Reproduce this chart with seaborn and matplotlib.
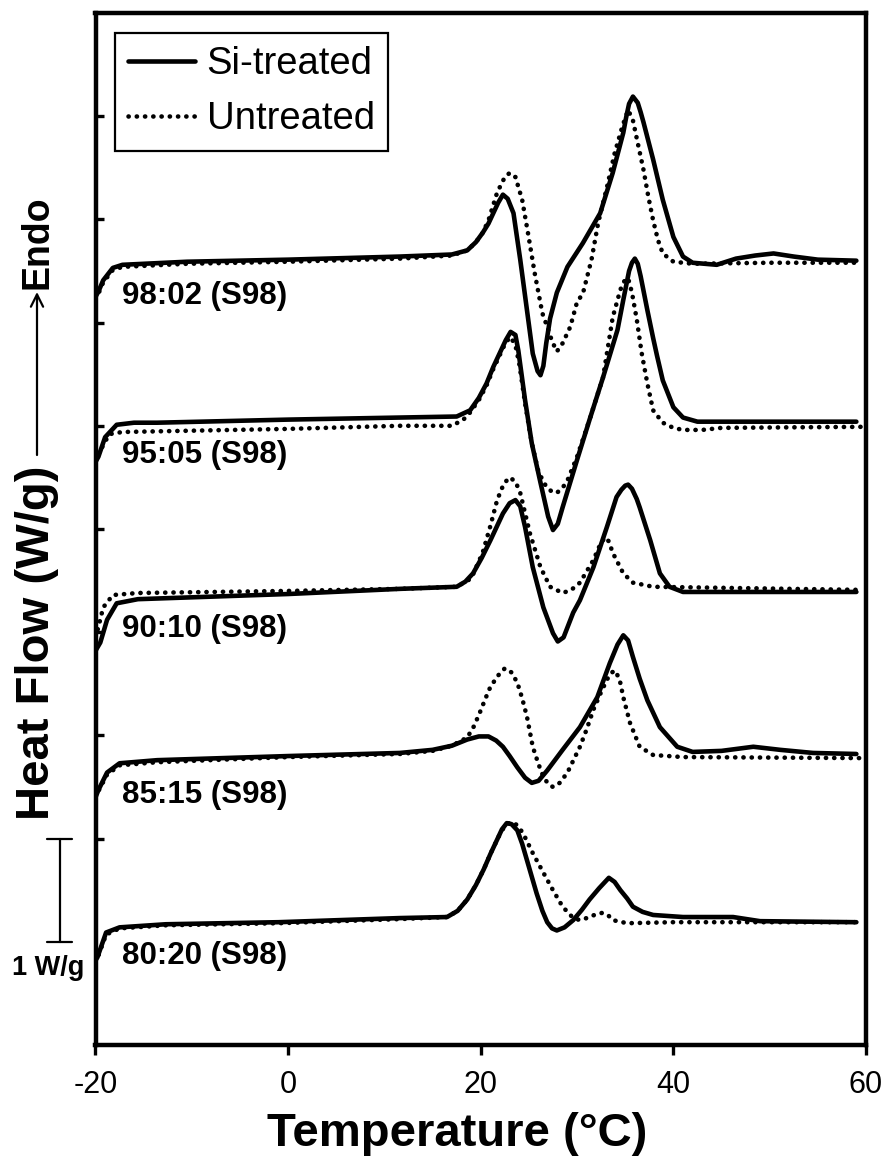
import matplotlib
matplotlib.use("Agg")
import matplotlib.pyplot as plt
import pandas as pd
import seaborn as sns
from matplotlib.lines import Line2D

# ---------------------------------------------------------------------------
# DSC heating scans (heat flow offset per sample, W/g) vs temperature (°C)
# ---------------------------------------------------------------------------
samples = ["98:02 (S98)", "95:05 (S98)", "90:10 (S98)", "85:15 (S98)", "80:20 (S98)"]
treatments = ["Si-treated", "Untreated"]

# 98:02
t_9802_si = [-20.0, -19.7, -19.2, -18.2, -17.2, -10.5, 0.0, 11.6, 17.0, 18.6, 19.5, 20.2,
             20.8, 21.3, 21.8, 22.3, 22.8, 23.4, 24.1, 24.8, 25.4, 25.9, 26.2, 26.5, 26.8,
             27.2, 27.9, 29.0, 30.6, 32.4, 33.7, 34.8, 35.1, 35.4, 35.8, 36.3, 36.6, 36.9,
             37.9, 38.9, 40.0, 41.0, 42.0, 44.5, 46.5, 48.5, 50.4, 52.5, 55.0, 59.0]
hf_9802_si = [7.25, 7.30, 7.41, 7.53, 7.56, 7.59, 7.61, 7.64, 7.66, 7.70, 7.78, 7.87,
              7.96, 8.06, 8.16, 8.24, 8.20, 8.06, 7.61, 7.12, 6.70, 6.53, 6.49, 6.58, 6.80,
              7.04, 7.29, 7.54, 7.77, 8.06, 8.45, 8.84, 8.99, 9.12, 9.19, 9.13, 9.04, 8.94,
              8.58, 8.19, 7.83, 7.64, 7.58, 7.56, 7.62, 7.65, 7.67, 7.64, 7.61, 7.60]
t_9802_un = [-20.0, -19.7, -19.2, -18.2, -17.2, -10.5, 0.0, 11.6, 17.0, 18.6, 19.5, 20.2,
             20.8, 21.7, 22.5, 23.0, 23.6, 24.3, 24.9, 25.6, 26.4, 26.9, 27.4, 27.9, 28.5,
             29.3, 30.0, 30.6, 31.5, 32.2, 33.1, 33.9, 34.7, 35.3, 35.8, 36.3, 36.9, 37.4,
             37.9, 38.4, 38.9, 40.0, 42.0, 50.0, 59.5]
hf_9802_un = [7.23, 7.28, 7.39, 7.51, 7.54, 7.57, 7.59, 7.62, 7.65, 7.70, 7.78, 7.87,
              7.99, 8.26, 8.41, 8.45, 8.41, 8.19, 7.87, 7.48, 7.09, 6.96, 6.82, 6.72, 6.80,
              6.96, 7.20, 7.28, 7.61, 7.97, 8.31, 8.64, 8.90, 9.06, 8.96, 8.74, 8.48, 8.22,
              7.99, 7.80, 7.67, 7.59, 7.57, 7.58, 7.58]

# 95:05
t_9505_si = [-20.0, -19.7, -19.0, -17.8, -16.0, -13.6, 0.0, 11.6, 17.5, 18.9, 19.8, 20.6,
             21.3, 22.0, 22.6, 23.1, 23.6, 23.9, 24.6, 25.3, 26.2, 27.0, 27.5, 28.0, 28.5,
             30.0, 31.3, 32.7, 34.2, 34.8, 35.4, 35.7, 36.0, 36.3, 36.6, 37.3, 37.9, 38.3,
             38.9, 40.0, 41.0, 42.5, 59.0]
hf_9505_si = [5.65, 5.70, 5.89, 6.01, 6.03, 6.03, 6.06, 6.08, 6.09, 6.15, 6.27, 6.41,
              6.57, 6.71, 6.83, 6.91, 6.88, 6.73, 6.25, 5.83, 5.45, 5.12, 4.99, 5.05, 5.21,
              5.67, 6.06, 6.47, 6.93, 7.22, 7.50, 7.58, 7.62, 7.57, 7.45, 7.12, 6.85, 6.68,
              6.44, 6.18, 6.08, 6.04, 6.04]
t_9505_un = [-20.0, -19.7, -19.0, -18.5, -17.2, 0.0, 11.6, 17.0, 18.2, 18.9, 19.8, 20.6,
             21.3, 22.0, 22.6, 23.1, 23.6, 24.0, 24.6, 25.3, 26.0, 26.8, 27.4, 27.9, 28.5,
             29.0, 30.0, 31.3, 32.7, 33.7, 34.5, 35.0, 35.3, 35.7, 36.2, 36.7, 37.3, 37.9,
             38.9, 40.0, 41.0, 43.0, 45.0, 59.5]
hf_9505_un = [5.65, 5.72, 5.85, 5.92, 5.94, 5.97, 6.00, 6.00, 6.06, 6.13, 6.25, 6.39,
              6.55, 6.69, 6.81, 6.86, 6.78, 6.60, 6.22, 5.83, 5.55, 5.41, 5.36, 5.35, 5.40,
              5.47, 5.70, 6.06, 6.47, 7.05, 7.32, 7.42, 7.43, 7.29, 7.03, 6.71, 6.41, 6.15,
              6.03, 5.98, 5.96, 5.96, 5.98, 5.99]

# 90:10
t_9010_si = [-20.0, -19.5, -18.8, -17.8, -15.6, 0.0, 11.6, 17.5, 18.4, 19.2, 20.1, 21.0,
             21.7, 22.3, 23.0, 23.6, 24.1, 24.6, 25.4, 26.5, 27.5, 28.0, 28.6, 29.6, 30.3,
             31.7, 33.1, 34.1, 34.6, 35.0, 35.3, 35.7, 36.2, 36.5, 37.6, 38.6, 39.6, 41.0,
             59.0]
hf_9010_si = [3.82, 3.90, 4.12, 4.28, 4.32, 4.37, 4.42, 4.44, 4.49, 4.57, 4.72, 4.89,
              5.03, 5.15, 5.25, 5.28, 5.22, 5.02, 4.63, 4.24, 3.99, 3.91, 3.95, 4.19, 4.31,
              4.63, 5.02, 5.31, 5.38, 5.42, 5.43, 5.39, 5.29, 5.21, 4.89, 4.57, 4.44, 4.39,
              4.39]
t_9010_un = [-20.0, -19.7, -19.2, -18.2, -15.6, 0.0, 11.6, 17.5, 19.0, 20.2, 21.0, 21.7,
             22.4, 23.0, 23.6, 24.1, 25.1, 26.2, 27.2, 28.5, 29.4, 30.3, 31.7, 32.4, 32.9,
             33.3, 33.7, 34.8, 35.8, 37.9, 59.5]
hf_9010_un = [3.95, 4.05, 4.24, 4.36, 4.38, 4.40, 4.42, 4.44, 4.52, 4.77, 5.03, 5.28,
              5.44, 5.50, 5.46, 5.35, 4.96, 4.63, 4.44, 4.38, 4.41, 4.48, 4.70, 4.85, 4.92,
              4.88, 4.77, 4.57, 4.48, 4.44, 4.41]

# 85:15
t_8515_si = [-20.0, -19.7, -18.8, -17.5, -13.6, 0.0, 11.6, 15.0, 17.0, 18.6, 19.8, 20.8,
             21.6, 22.3, 23.0, 23.8, 24.6, 25.3, 26.0, 26.9, 28.5, 30.3, 32.1, 33.4, 34.2,
             34.8, 35.3, 35.8, 36.5, 37.3, 38.6, 40.4, 42.0, 45.0, 48.3, 51.1, 54.5, 59.0]
hf_8515_si = [2.40, 2.47, 2.64, 2.73, 2.76, 2.80, 2.83, 2.86, 2.90, 2.96, 2.99, 2.99,
              2.95, 2.89, 2.80, 2.69, 2.59, 2.54, 2.56, 2.66, 2.86, 3.08, 3.37, 3.70, 3.88,
              3.97, 3.92, 3.76, 3.55, 3.34, 3.08, 2.89, 2.84, 2.85, 2.89, 2.86, 2.83, 2.82]
t_8515_un = [-20.0, -19.7, -18.8, -17.5, -13.6, 0.0, 11.6, 15.0, 17.0, 18.6, 19.3, 19.9,
             20.5, 21.0, 21.8, 22.5, 23.2, 23.8, 24.3, 24.8, 25.4, 26.0, 26.5, 27.0, 27.5,
             28.2, 29.0, 30.3, 31.0, 31.7, 32.4, 33.1, 33.5, 33.9, 34.4, 34.8, 35.5, 36.5,
             37.9, 41.0, 59.5]
hf_8515_un = [2.40, 2.46, 2.62, 2.71, 2.74, 2.79, 2.82, 2.85, 2.90, 2.98, 3.09, 3.22,
              3.36, 3.47, 3.58, 3.65, 3.61, 3.51, 3.36, 3.18, 2.89, 2.72, 2.60, 2.53, 2.50,
              2.54, 2.64, 2.89, 3.06, 3.25, 3.40, 3.54, 3.60, 3.63, 3.55, 3.37, 3.12, 2.89,
              2.81, 2.79, 2.78]

# 80:20
t_8020_si = [-20.0, -19.8, -18.9, -17.5, -12.7, -1.0, 11.6, 16.5, 17.6, 18.6, 19.5, 20.3,
             21.0, 21.7, 22.2, 22.7, 23.2, 23.8, 24.3, 24.8, 25.3, 25.8, 26.4, 26.9, 27.4,
             27.9, 28.7, 29.6, 30.5, 31.3, 32.3, 33.3, 33.9, 34.5, 35.2, 35.8, 36.8, 37.9,
             41.0, 46.2, 49.0, 59.0]
hf_8020_si = [0.82, 0.85, 1.09, 1.14, 1.17, 1.19, 1.23, 1.24, 1.30, 1.41, 1.55, 1.70,
              1.85, 1.99, 2.09, 2.15, 2.14, 2.08, 1.95, 1.79, 1.63, 1.47, 1.30, 1.19, 1.13,
              1.11, 1.14, 1.21, 1.31, 1.41, 1.52, 1.62, 1.58, 1.50, 1.42, 1.34, 1.29, 1.26,
              1.24, 1.24, 1.20, 1.19]
t_8020_un = [-20.0, -19.8, -18.9, -17.5, -12.7, -1.0, 11.6, 16.5, 17.6, 18.6, 19.5, 20.3,
             21.0, 21.7, 22.2, 22.7, 23.2, 23.8, 24.4, 25.4, 26.5, 27.5, 28.5, 29.6, 30.3,
             31.0, 31.8, 32.6, 33.2, 33.7, 35.2, 40.0, 59.5]
hf_8020_un = [0.80, 0.84, 1.07, 1.13, 1.16, 1.18, 1.22, 1.24, 1.30, 1.41, 1.55, 1.70,
              1.85, 1.99, 2.08, 2.14, 2.16, 2.13, 2.05, 1.86, 1.67, 1.50, 1.34, 1.23, 1.21,
              1.23, 1.26, 1.28, 1.26, 1.21, 1.18, 1.19, 1.19]

x_ticks = [-20, 0, 20, 40, 60]
y_ticks = [2, 3, 4, 5, 6, 7, 8, 9]

curves = {
    ("98:02 (S98)", "Si-treated"): (t_9802_si, hf_9802_si),
    ("98:02 (S98)", "Untreated"): (t_9802_un, hf_9802_un),
    ("95:05 (S98)", "Si-treated"): (t_9505_si, hf_9505_si),
    ("95:05 (S98)", "Untreated"): (t_9505_un, hf_9505_un),
    ("90:10 (S98)", "Si-treated"): (t_9010_si, hf_9010_si),
    ("90:10 (S98)", "Untreated"): (t_9010_un, hf_9010_un),
    ("85:15 (S98)", "Si-treated"): (t_8515_si, hf_8515_si),
    ("85:15 (S98)", "Untreated"): (t_8515_un, hf_8515_un),
    ("80:20 (S98)", "Si-treated"): (t_8020_si, hf_8020_si),
    ("80:20 (S98)", "Untreated"): (t_8020_un, hf_8020_un),
}

rows = []
for (sample, treat), (t, hf) in curves.items():
    for order, (ti, hi) in enumerate(zip(t, hf)):
        rows.append({"sample": sample, "treatment": treat, "T": ti, "HF": hi, "order": order})
df = pd.DataFrame(rows)

# ---------------------------------------------------------------------------
sns.set_theme(style="white", rc={"text.color": "black", "axes.labelcolor": "black",
                                 "xtick.color": "black", "ytick.color": "black",
                                 "axes.edgecolor": "black"})
plt.rcParams["font.family"] = ["Liberation Sans", "DejaVu Sans"]

W, H = 890, 1162
fig = plt.figure(figsize=(W / 100, H / 100), dpi=100)
ax = fig.add_axes([95.5 / W, (H - 1045) / H, 770.5 / W, 1032 / H])

LW = 3.3
dotted = (0, (0.05, 1.75))
styles = {"Si-treated": dict(linestyle="-", solid_capstyle="round", solid_joinstyle="round"),
          "Untreated": dict(linestyle=dotted, dash_capstyle="round")}

# untreated first so the solid traces sit on top
for treat in ["Untreated", "Si-treated"]:
    for sample in samples:
        sub = df[(df["sample"] == sample) & (df["treatment"] == treat)]
        sns.lineplot(data=sub, x="T", y="HF", ax=ax, sort=False, estimator=None,
                     color="black", linewidth=LW, legend=False, **styles[treat])

ax.set_xlim(-20, 60)
ax.set_ylim(0, 10)
ax.set_xticks(x_ticks)
ax.set_xticklabels([f"{v:d}" for v in x_ticks])
ax.set_yticks(y_ticks)
ax.set_yticklabels([])
ax.tick_params(axis="x", direction="out", length=7, width=2.4, labelsize=22, pad=11,
               bottom=True, colors="black")
ax.tick_params(axis="y", direction="in", length=6, width=2.4, left=True, right=False)
for sp in ax.spines.values():
    sp.set_visible(True)
    sp.set_color("black")
    sp.set_linewidth(3.2)

ax.set_xlabel("Temperature (°C)", fontsize=34, fontweight="bold", color="black")
ax.xaxis.set_label_coords(0.47, -0.065)
ax.set_ylabel("")

# sample names under each trace
label_y = [7.26, 5.72, 4.03, 2.42, 0.86]
for name, yv in zip(samples, label_y):
    ax.text(-17.2, yv, name, fontsize=22.5, fontweight="bold", ha="left", va="center",
            color="black")

# legend
handles = [Line2D([], [], color="black", linewidth=LW, **styles[t]) for t in treatments]
leg = ax.legend(handles, treatments, loc="upper left", bbox_to_anchor=(0.0253, 0.9806),
                borderaxespad=0, fontsize=27.5, handlelength=1.75, handletextpad=0.3,
                labelspacing=0.5, borderpad=0.35, frameon=True, fancybox=False)
leg.get_frame().set_edgecolor("black")
leg.get_frame().set_linewidth(1.6)
leg.get_frame().set_alpha(1)
for txt in leg.get_texts():
    txt.set_color("black")

# 1 W/g scale bar, drawn outside the axes on the left
trans = ax.get_yaxis_transform()
bar_x, cap_l, cap_r = -0.0461, -0.063, -0.0305
ax.plot([bar_x, bar_x], [1.0, 2.0], transform=trans, color="black", lw=1.6, clip_on=False)
ax.plot([cap_l, cap_r], [1.0, 1.0], transform=trans, color="black", lw=1.6, clip_on=False)
ax.plot([cap_l, cap_r], [2.0, 2.0], transform=trans, color="black", lw=1.6, clip_on=False)
ax.text(-0.062, 0.75, "1 W/g", transform=trans, fontsize=19.5, fontweight="bold",
        ha="center", va="center", color="black")

# y-axis title with an "Endo" arrow
fig.text(37 / W, 1 - 643 / H, "Heat Flow (W/g)", rotation=90, fontsize=34,
         fontweight="bold", ha="center", va="center", color="black")
ax.annotate("", xy=(37 / W, 1 - 292 / H), xytext=(37 / W, 1 - 455 / H),
            xycoords="figure fraction", textcoords="figure fraction",
            arrowprops=dict(arrowstyle="->", lw=1.6, color="black",
                            mutation_scale=22, shrinkA=0, shrinkB=0))
fig.text(37 / W, 1 - 242 / H, "Endo", rotation=90, fontsize=27,
         fontweight="bold", ha="center", va="center", color="black")

fig.savefig("out.png", dpi=100, facecolor="white")
